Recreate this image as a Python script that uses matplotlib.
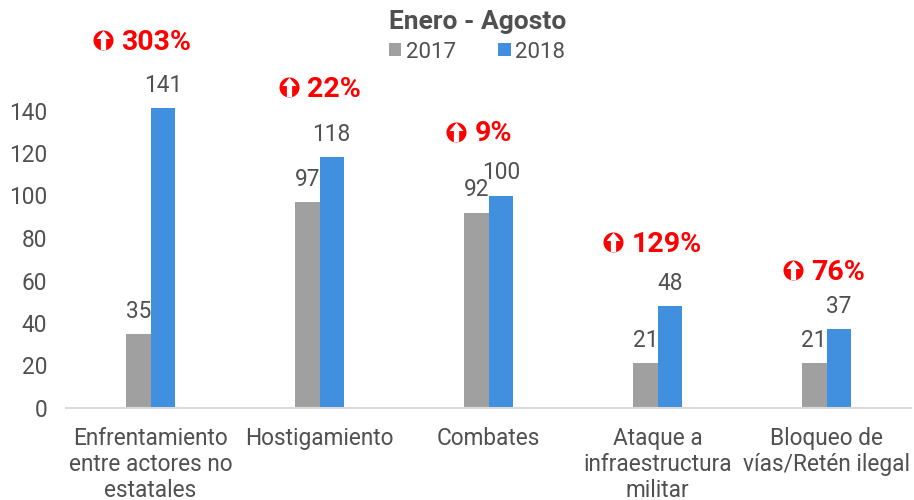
#!/usr/bin/env python3
import numpy as np
import matplotlib.pyplot as plt
from matplotlib.path import Path

categories = ["Enfrentamiento\nentre actores no\nestatales", "Hostigamiento", "Combates",
              "Ataque a\ninfraestructura\nmilitar", "Bloqueo de\nvías/Retén ilegal"]
values_2017 = [35, 97, 92, 21, 21]
values_2018 = [141, 118, 100, 48, 37]
changes = ["303%", "22%", "9%", "129%", "76%"]
# height of each change label, in data units
change_y = [172, 150, 129, 77, 64]
yticks = [0, 20, 40, 60, 80, 100, 120, 140]

GRAY = "#A0A0A0"
BLUE = "#4190E0"
TEXT = "#505050"
RED = "#FF0000"
FS = 16.3

plt.rcParams["font.family"] = ["Roboto", "DejaVu Sans"]

# up arrow used inside the round badge
ARROW = Path([(0, 1), (0.72, 0.15), (0.27, 0.15), (0.27, -1), (-0.27, -1),
              (-0.27, 0.15), (-0.72, 0.15), (0, 1)], closed=True)
# badge offset from category centre, in px
badge_dx = [-48, -31, -33, -45, -34]

fig = plt.figure(figsize=(9.14, 5.0), dpi=100)
ax = fig.add_axes([66 / 914, 1 - 408 / 500, 845 / 914, 340 / 500])

pos = np.arange(len(categories))
w = 24.5 / 169
ax.bar(pos - w / 2, values_2017, w, color=GRAY, label="2017")
ax.bar(pos + w / 2, values_2018, w, color=BLUE, label="2018")

for i in pos:
    ax.annotate(str(values_2017[i]), (i - w / 2, values_2017[i]), xytext=(0, 8),
                textcoords="offset points", ha="center", va="bottom", fontsize=FS, color=TEXT)
    ax.annotate(str(values_2018[i]), (i + w / 2, values_2018[i]), xytext=(0, 8),
                textcoords="offset points", ha="center", va="bottom", fontsize=FS, color=TEXT)
    bx = i + badge_dx[i] / 169
    ax.plot([bx], [change_y[i] + 1], marker="o", ms=14.4, color=RED, mew=0, clip_on=False)
    ax.plot([bx], [change_y[i] + 1], marker=ARROW, ms=14, color="white", mew=0, clip_on=False)
    ax.annotate(changes[i], (bx, change_y[i]), xytext=(13.5, 0), textcoords="offset points",
                ha="left", va="center", fontsize=20.5, fontweight="bold", color=RED,
                annotation_clip=False)

ax.set_xlim(-0.5, 4.5)
ax.set_ylim(0, 160)
ax.set_yticks(yticks)
ax.set_xticks(pos)
ax.set_xticklabels(categories, fontsize=FS, color=TEXT, linespacing=1.15)
ax.tick_params(axis="y", length=0, labelsize=FS, labelcolor=TEXT, pad=13.5)
for lab in ax.get_yticklabels():
    lab.set_verticalalignment("center_baseline")
ax.tick_params(axis="x", length=0, pad=14)
for s in ["top", "right", "left"]:
    ax.spines[s].set_visible(False)
ax.spines["bottom"].set_color("#D9D9D9")
ax.spines["bottom"].set_linewidth(1.5)

fig.text(478 / 914, 1 - 22 / 500, "Enero - Agosto", ha="center", va="center",
         fontsize=19, fontweight="bold", color=TEXT)
fig.legend(loc="center", bbox_to_anchor=(477 / 914, 1 - 52 / 500), ncol=2, frameon=False,
           fontsize=16, labelcolor=TEXT, handlelength=0.56, handleheight=0.56,
           handletextpad=0.2, columnspacing=1.9)

fig.savefig("out.png", dpi=100)
